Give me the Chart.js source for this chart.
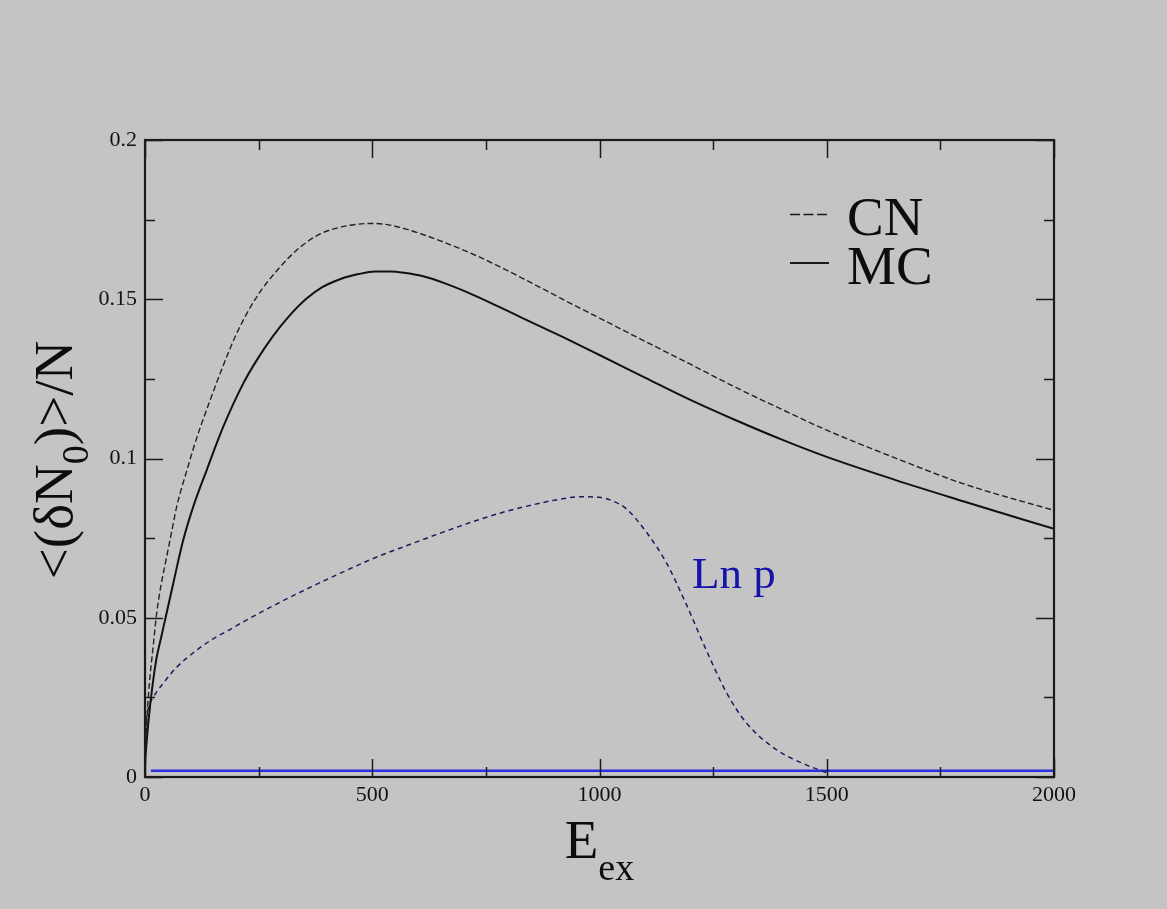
<!DOCTYPE html>
<html>
<head>
<meta charset="utf-8">
<script src="https://cdn.jsdelivr.net/npm/chart.js@4.4.1/dist/chart.umd.min.js"></script>
<style>
  html, body { margin: 0; padding: 0; background: #c4c4c4; }
  #wrap { width: 1167px; height: 909px; }
</style>
</head>
<body>
<div id="wrap"><canvas id="c" width="1167" height="909"></canvas></div>
<script>
// ---------- data ----------
const cnX = [0, 2, 5, 10, 18, 25.6, 35, 47.6, 60, 69.6, 80, 91.6, 105, 121, 140, 165, 201.5, 245.6, 297, 341, 385, 429, 470, 500, 530, 575, 648.6, 736.6, 831.8, 927, 1000, 1100, 1200, 1300, 1400, 1500, 1650, 1800, 2000];
const cnY = [0.005, 0.012, 0.02, 0.03, 0.041, 0.0513, 0.060, 0.0691, 0.078, 0.0848, 0.0905, 0.0960, 0.1025, 0.1095, 0.117, 0.1266, 0.1392, 0.1507, 0.1601, 0.1663, 0.1705, 0.1726, 0.1736, 0.1738, 0.1735, 0.1720, 0.1684, 0.1632, 0.1565, 0.1494, 0.1441, 0.1368, 0.1296, 0.1223, 0.1155, 0.1089, 0.1002, 0.0921, 0.0837];

const mcX = [0, 3, 8, 15, 25, 35, 44, 62, 84, 106, 135.6, 172, 216, 245.6, 282, 319, 355.5, 390, 429, 470, 505.7, 540, 570, 612, 660, 722, 832, 920, 1000, 1100, 1200, 1300, 1400, 1500, 1650, 1800, 2000];
const mcY = [0.004, 0.010, 0.018, 0.027, 0.037, 0.0435, 0.0492, 0.0607, 0.0743, 0.0848, 0.0963, 0.1099, 0.1235, 0.1308, 0.1385, 0.1450, 0.1502, 0.1538, 0.1563, 0.1579, 0.1587, 0.1587, 0.1583, 0.1572, 0.1550, 0.1514, 0.1440, 0.1381, 0.1325, 0.1254, 0.1184, 0.1120, 0.1060, 0.1005, 0.0933, 0.0866, 0.0779];

const lnpX = [0, 3, 8, 18, 40, 70, 113.6, 150, 187, 216, 280, 355.5, 430, 502, 575, 648.6, 720, 795, 870, 912, 960, 1000, 1030, 1059, 1103, 1147, 1191, 1235, 1279, 1323, 1389, 1455, 1499];
const lnpY = [0.012, 0.018, 0.022, 0.025, 0.0294, 0.0345, 0.0398, 0.0434, 0.0463, 0.0487, 0.0536, 0.0590, 0.0640, 0.0686, 0.0726, 0.0765, 0.0801, 0.0834, 0.0860, 0.0872, 0.0880, 0.0878, 0.0866, 0.0842, 0.0769, 0.0673, 0.0542, 0.0398, 0.0266, 0.0170, 0.0086, 0.0038, 0.0014];

const baseX = [13, 2000];
const baseY = [0.002, 0.002];

const xTickLabels = ['0', '500', '1000', '1500', '2000'];
const yTickLabels = ['0', '0.05', '0.1', '0.15', '0.2'];
const xMajor = [0, 500, 1000, 1500, 2000];
const xMinor = [250, 750, 1250, 1750];
const yMajor = [0, 0.05, 0.1, 0.15, 0.2];
const yMinor = [0.025, 0.075, 0.125, 0.175];

const legendLabels = ['CN', 'MC'];
const curveLabel = 'Ln p';

// ---------- helpers ----------
const pts = (xs, ys) => xs.map((x, i) => ({ x: x, y: ys[i] }));
const SERIF = '"Liberation Serif", "Times New Roman", serif';

const decor = {
  id: 'decor',
  beforeDraw(chart) {
    const ctx = chart.ctx;
    ctx.save();
    ctx.fillStyle = '#c4c4c4';
    ctx.fillRect(0, 0, chart.width, chart.height);
    ctx.restore();
  },
  afterDraw(chart) {
    const ctx = chart.ctx;
    const a = chart.chartArea;
    const xs = chart.scales.x, ys = chart.scales.y;
    ctx.save();
    // ticks on all four sides (inward)
    ctx.strokeStyle = '#1a1a1a';
    ctx.lineWidth = 1.5;
    const vt = (v, len) => {
      const p = Math.round(xs.getPixelForValue(v)) + 0.5;
      ctx.beginPath();
      ctx.moveTo(p, a.bottom); ctx.lineTo(p, a.bottom - len);
      ctx.moveTo(p, a.top); ctx.lineTo(p, a.top + len);
      ctx.stroke();
    };
    const ht = (v, len) => {
      const p = Math.round(ys.getPixelForValue(v)) + 0.5;
      ctx.beginPath();
      ctx.moveTo(a.left, p); ctx.lineTo(a.left + len, p);
      ctx.moveTo(a.right, p); ctx.lineTo(a.right - len, p);
      ctx.stroke();
    };
    xMajor.forEach(v => vt(v, 18));
    xMinor.forEach(v => vt(v, 10));
    yMajor.forEach(v => ht(v, 18));
    yMinor.forEach(v => ht(v, 10));
    // frame
    ctx.lineWidth = 2.2;
    ctx.strokeStyle = '#1a1a1a';
    ctx.strokeRect(a.left, a.top, a.right - a.left, a.bottom - a.top);

    ctx.fillStyle = '#0d0d0d';
    ctx.textBaseline = 'alphabetic';
    // x title: E_ex
    ctx.textAlign = 'left';
    ctx.font = '55px ' + SERIF;
    const cx = (a.left + a.right) / 2;
    const wE = ctx.measureText('E').width;
    ctx.font = '38px ' + SERIF;
    const wSub = ctx.measureText('ex').width;
    const x0 = cx - (wE + wSub) / 2;
    ctx.font = '55px ' + SERIF;
    ctx.fillText('E', x0, 858);
    ctx.font = '38px ' + SERIF;
    ctx.fillText('ex', x0 + wE, 880);

    // y title: <(δN_0)>/N rotated
    ctx.save();
    ctx.translate(72, 460);
    ctx.rotate(-Math.PI / 2);
    const parts = [['<(\u03B4N', 55, 0], ['0', 38, 16], [')>/N', 55, 0]];
    let tw = 0;
    parts.forEach(p => { ctx.font = p[1] + 'px ' + SERIF; tw += ctx.measureText(p[0]).width; });
    let px = -tw / 2;
    parts.forEach(p => {
      ctx.font = p[1] + 'px ' + SERIF;
      ctx.fillText(p[0], px, p[2]);
      px += ctx.measureText(p[0]).width;
    });
    ctx.restore();

    // legend
    ctx.font = '55px ' + SERIF;
    ctx.fillStyle = '#0d0d0d';
    ctx.fillText(legendLabels[0], 847, 235);
    ctx.fillText(legendLabels[1], 847, 284);
    ctx.strokeStyle = '#1a1a1a';
    ctx.lineWidth = 1.5;
    ctx.setLineDash([10, 3.5]);
    ctx.beginPath(); ctx.moveTo(790, 214.5); ctx.lineTo(829, 214.5); ctx.stroke();
    ctx.setLineDash([]);
    ctx.lineWidth = 2;
    ctx.beginPath(); ctx.moveTo(790, 263); ctx.lineTo(829, 263); ctx.stroke();

    // curve label
    ctx.font = '45px ' + SERIF;
    ctx.fillStyle = '#1414a8';
    ctx.fillText(curveLabel, 692, 588);
    ctx.restore();
  }
};

new Chart(document.getElementById('c'), {
  type: 'line',
  data: {
    datasets: [
      { label: 'CN', data: pts(cnX, cnY), borderColor: '#222222', borderWidth: 1.4, borderDash: [6, 3], pointRadius: 0, cubicInterpolationMode: 'monotone', fill: false },
      { label: 'MC', data: pts(mcX, mcY), borderColor: '#111111', borderWidth: 2, pointRadius: 0, cubicInterpolationMode: 'monotone', fill: false },
      { label: 'Ln p', data: pts(lnpX, lnpY), borderColor: '#1c1c5c', borderWidth: 1.5, borderDash: [5, 4], pointRadius: 0, cubicInterpolationMode: 'monotone', fill: false },
      { label: 'base', data: pts(baseX, baseY), borderColor: '#2d2de6', borderWidth: 2.5, pointRadius: 0, fill: false }
    ]
  },
  options: {
    responsive: false,
    animation: false,
    devicePixelRatio: 1,
    layout: { padding: { left: 0, top: 140, right: 113, bottom: 0 } },
    plugins: { legend: { display: false }, tooltip: { enabled: false } },
    scales: {
      x: {
        type: 'linear', min: 0, max: 2000,
        grid: { display: false, drawTicks: false },
        border: { display: false },
        ticks: { stepSize: 500, padding: 5, color: '#111', font: { family: SERIF, size: 22 },
                 maxRotation: 0, callback: (v, i) => xTickLabels[i] },
        afterFit: s => { s.height = 132; }
      },
      y: {
        type: 'linear', min: 0, max: 0.2,
        grid: { display: false, drawTicks: false },
        border: { display: false },
        ticks: { stepSize: 0.05, padding: 8, color: '#111', font: { family: SERIF, size: 22 },
                 callback: (v, i) => yTickLabels[i] },
        afterFit: s => { s.width = 145; }
      }
    }
  },
  plugins: [decor]
});
</script>
</body>
</html>
